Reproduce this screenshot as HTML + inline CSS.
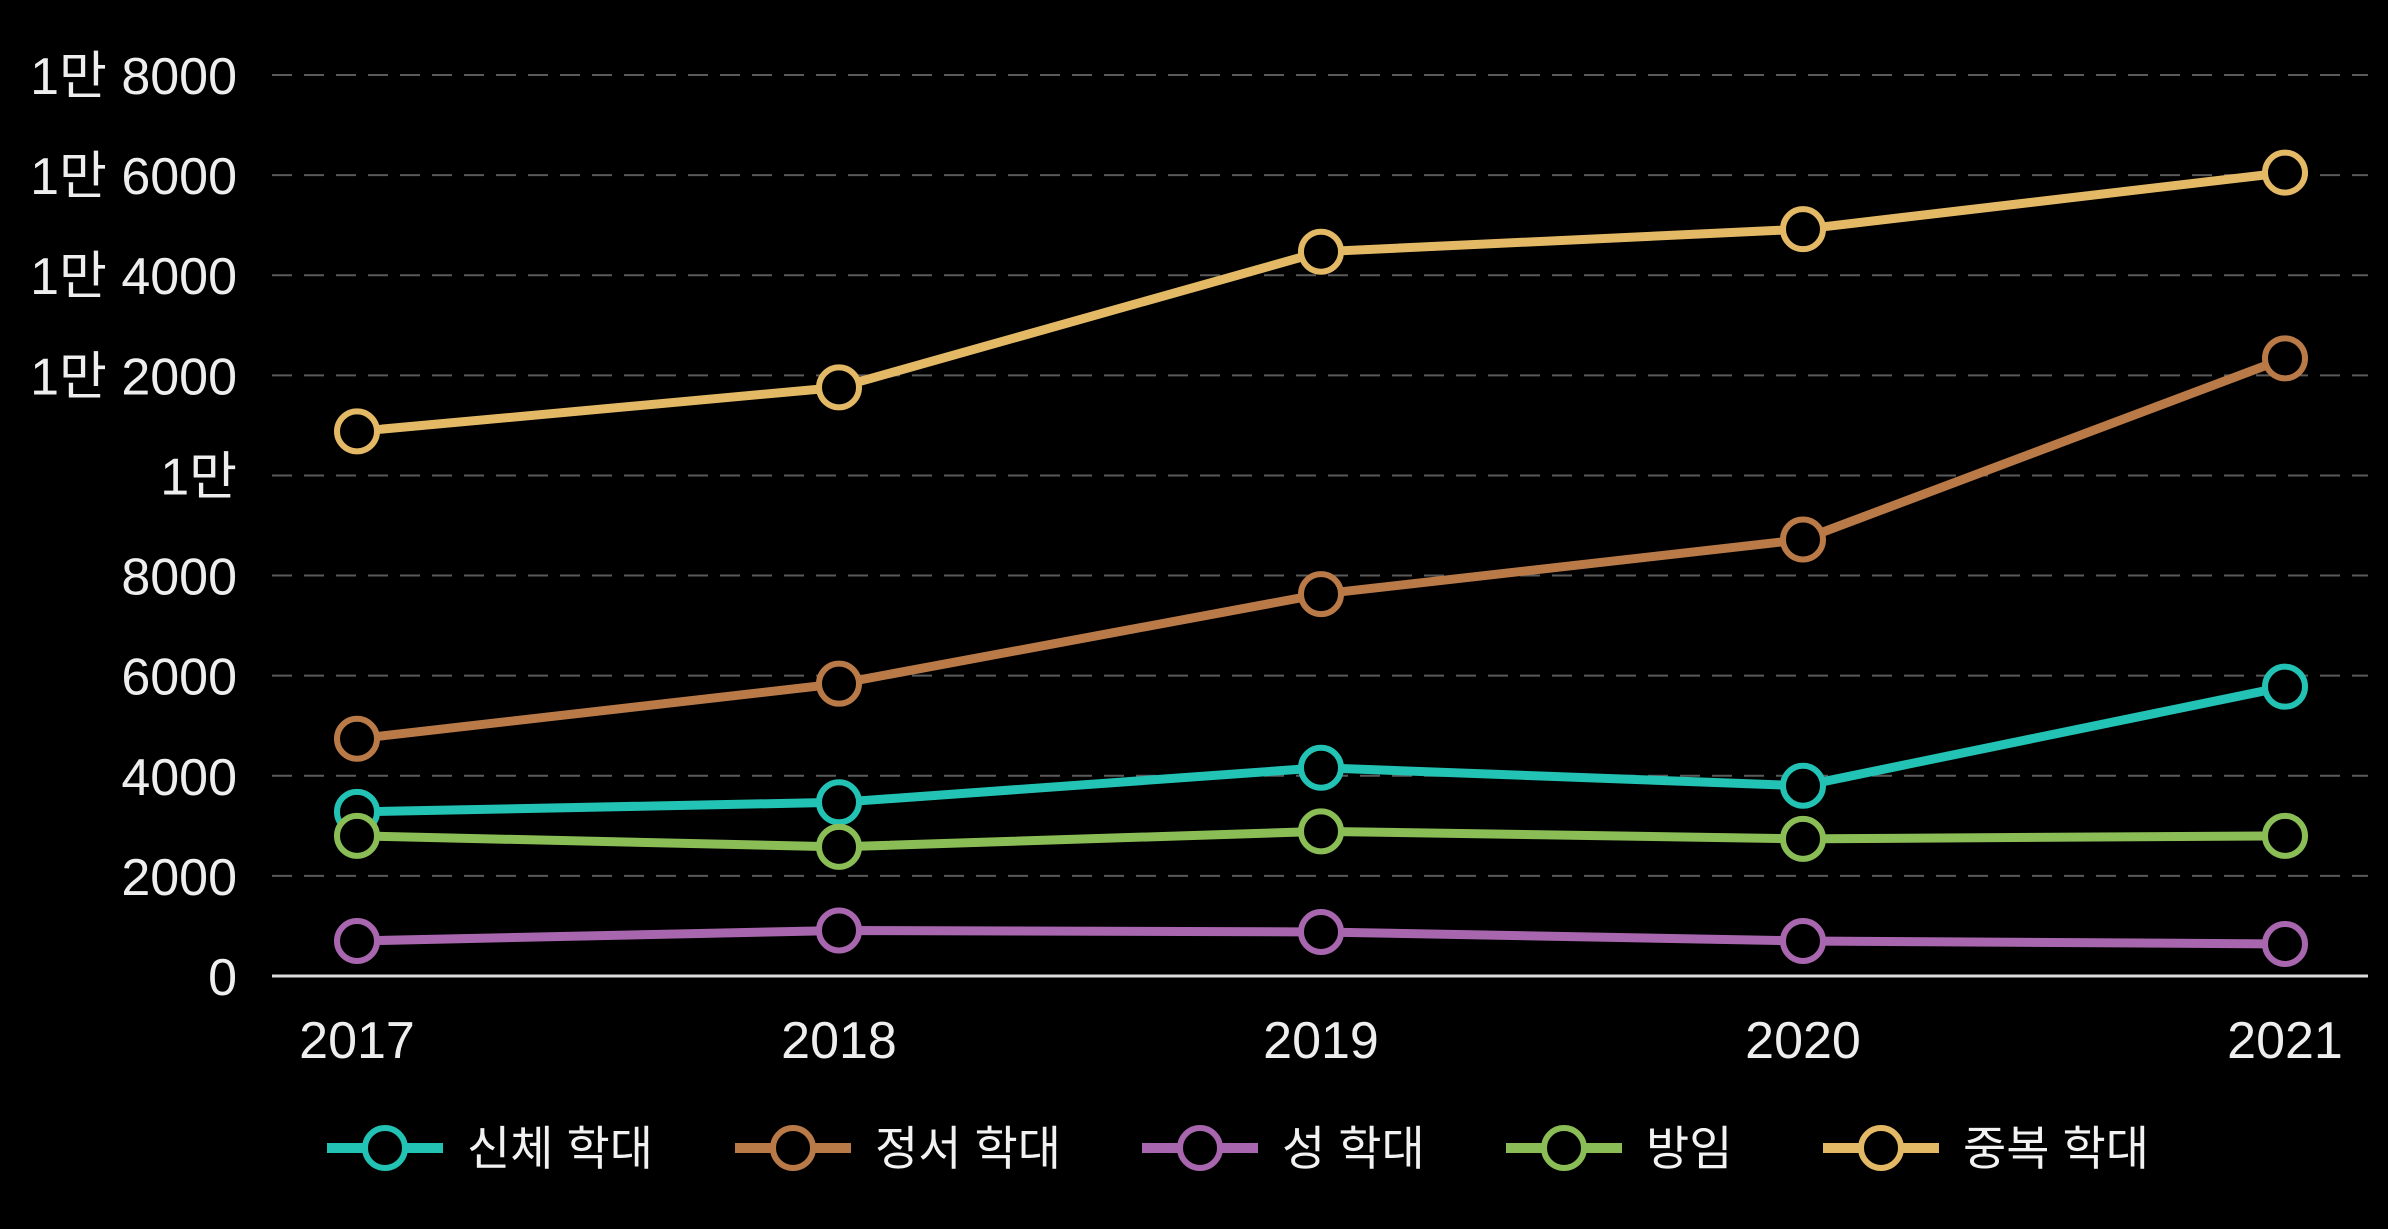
<!DOCTYPE html>
<html><head><meta charset="utf-8"><style>
html,body{margin:0;padding:0;background:#000;}
svg{display:block;font-family:"Liberation Sans","Noto Sans CJK KR",sans-serif;}
</style></head><body>
<svg id="chart" width="2388" height="1229" viewBox="0 0 2388 1229" xmlns="http://www.w3.org/2000/svg">
<rect width="2388" height="1229" fill="#000"/>
<g id="grid"></g>
<g id="yticks"></g>
<g id="xticks"></g>
<g id="series"></g>
<g id="legend"></g>
</svg>
<script>
const years = ["2017","2018","2019","2020","2021"];
const physical = [3280, 3470, 4160, 3800, 5780];
const emotional = [4740, 5840, 7630, 8720, 12340];
const sexual = [700, 910, 880, 700, 640];
const neglect = [2800, 2580, 2890, 2740, 2800];
const multiple = [10880, 11760, 14470, 14920, 16050];
const seriesNames = ["신체 학대","정서 학대","성 학대","방임","중복 학대"];
const yTickValues = [0,2000,4000,6000,8000,10000,12000,14000,16000,18000];
const yTickLabels = ["0","2000","4000","6000","8000","1만","1만 2000","1만 4000","1만 6000","1만 8000"];

const NS="http://www.w3.org/2000/svg";
const colors=["#22c3b4","#b97a48","#a866ae","#8bbd56","#e3b966"];
const allSeries=[physical,emotional,sexual,neglect,multiple];
const x0=357,x1=2285,yBase=976,yTop=75,vMax=18000;
function xs(i){return x0+(x1-x0)*i/(years.length-1);}
function ys(v){return yBase-(yBase-yTop)*v/vMax;}
function mk(tag,attrs,parent){const e=document.createElementNS(NS,tag);for(const k in attrs)e.setAttribute(k,attrs[k]);parent.appendChild(e);return e;}

const grid=document.getElementById('grid'),yt=document.getElementById('yticks'),xt=document.getElementById('xticks');
yTickValues.forEach((v,i)=>{
  if(v>0){const l=mk('line',{x1:272,x2:2368,y1:ys(v),y2:ys(v),stroke:'#5a5a5a','stroke-width':2,'stroke-dasharray':'20 12'},grid);
  
  }
  const t=mk('text',{x:237,y:ys(v)+19,'text-anchor':'end',fill:'#eee','font-size':52},yt);
  t.textContent=yTickLabels[i];
  
  
});
const ax=mk('line',{x1:272,x2:2368,y1:yBase,y2:yBase,stroke:'#ddd','stroke-width':3},xt);


years.forEach((y,i)=>{
  const t=mk('text',{x:xs(i),y:1058,'text-anchor':'middle',fill:'#eee','font-size':52},xt);
  t.textContent=y;
  
  
});
const sg=document.getElementById('series');
allSeries.forEach((data,s)=>{
  const g=mk('g',{},sg);
  
  
  const p=mk('polyline',{points:data.map((v,i)=>xs(i)+','+ys(v)).join(' '),fill:'none',stroke:colors[s],'stroke-width':9,'stroke-linejoin':'round'},g);
  
  
  data.forEach((v,i)=>{
    const c=mk('circle',{cx:xs(i),cy:ys(v),r:20,fill:'#000',stroke:colors[s],'stroke-width':6},g);
    
    
  });
});
const lg=document.getElementById('legend');
const lx=[385,793,1200,1564,1881];
seriesNames.forEach((n,s)=>{
  const g=mk('g',{},lg);
  
  
  mk('line',{x1:lx[s]-58,x2:lx[s]+58,y1:1148,y2:1148,stroke:colors[s],'stroke-width':10},g);
  mk('circle',{cx:lx[s],cy:1148,r:20,fill:'#000',stroke:colors[s],'stroke-width':6},g);
  const t=mk('text',{x:lx[s]+82,y:1165,fill:'#f2f2f2','font-size':47},g);
  t.textContent=n;
  
  
});
</script>
</body></html>
